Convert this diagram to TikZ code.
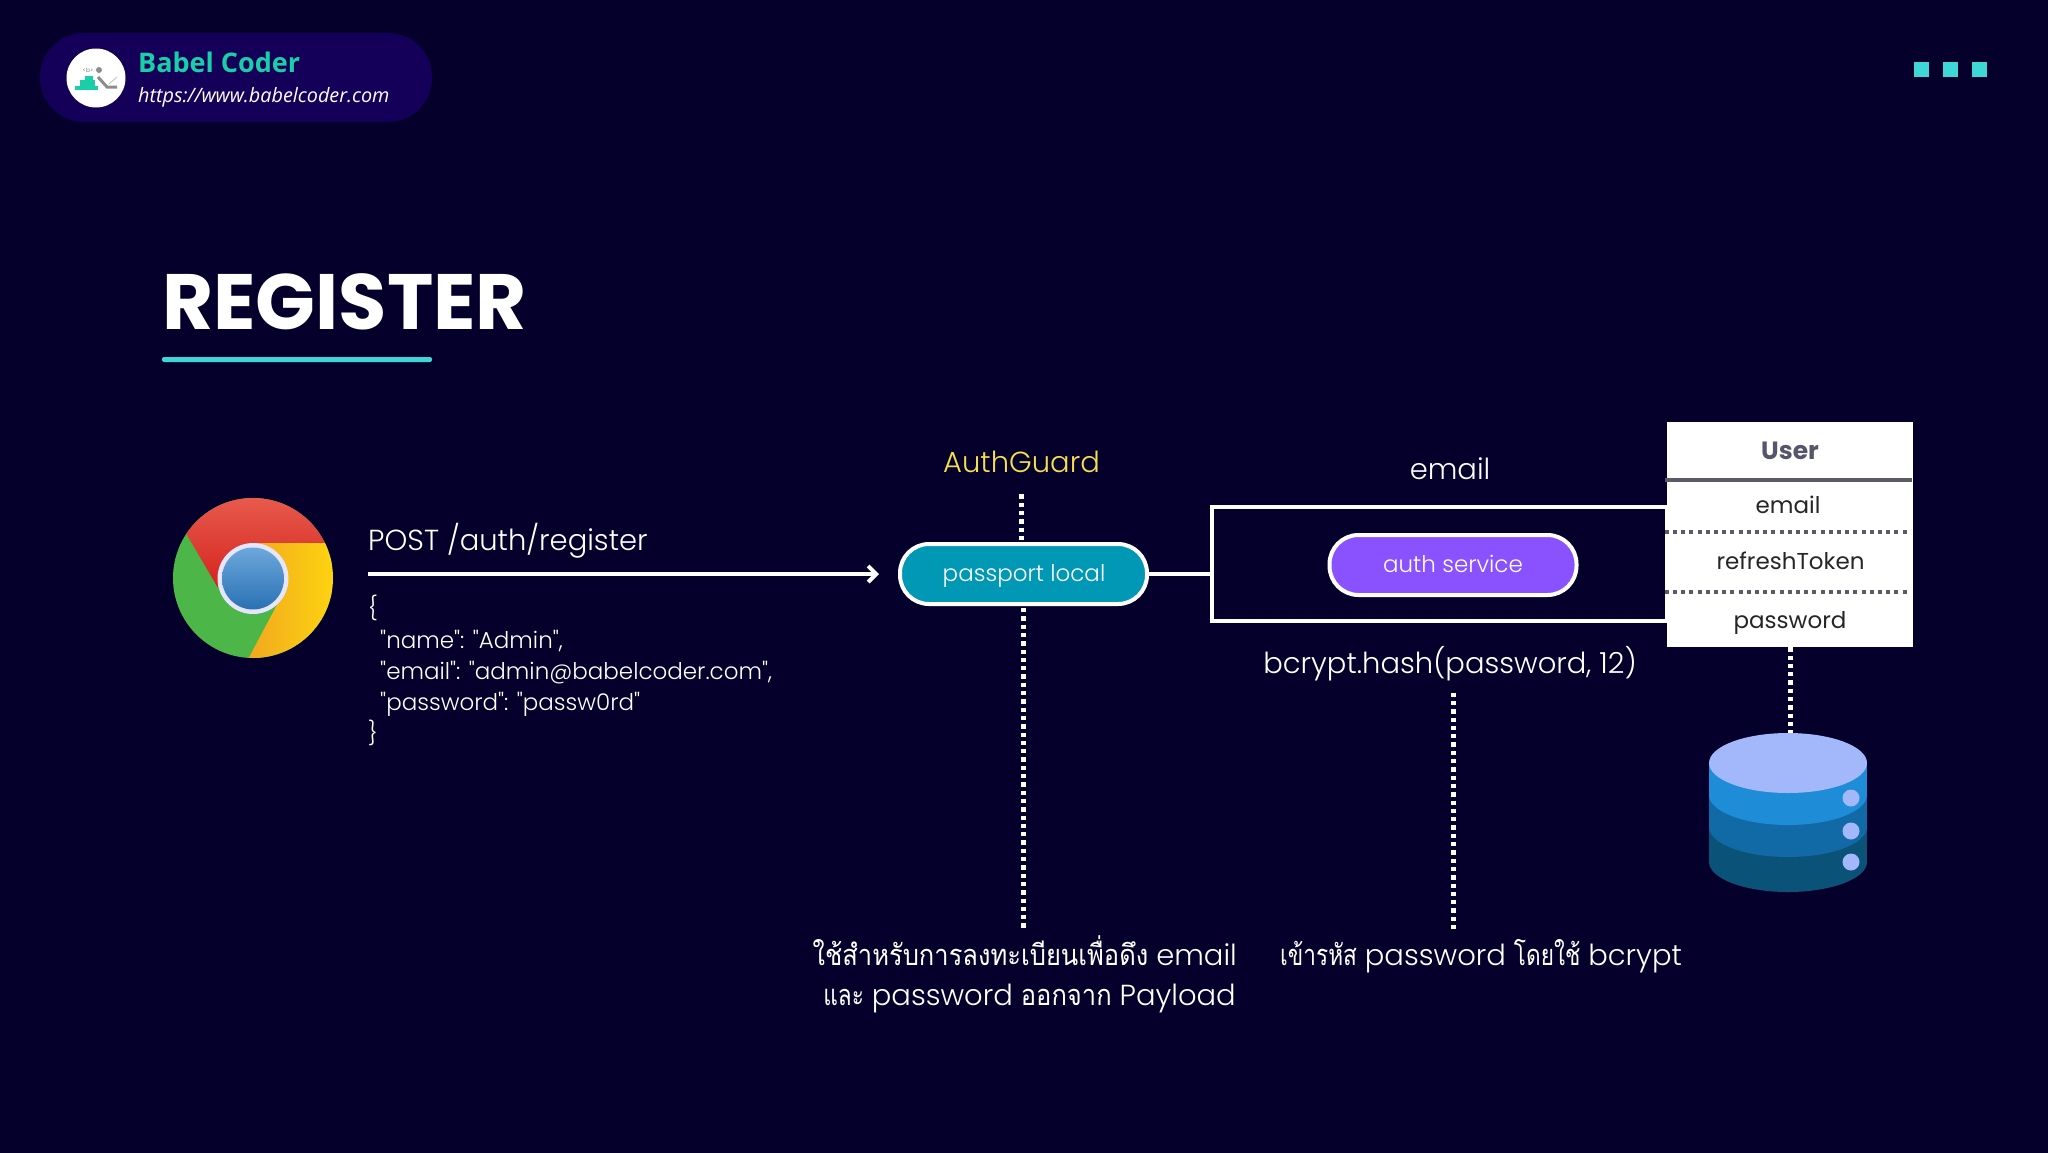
\documentclass[tikz,border=0pt]{standalone}
\usepackage{fontspec}
\usetikzlibrary{arrows.meta,shapes.geometric}
\setmainfont{Poppins}
\newfontfamily\lightfont{Poppins Light}
\newfontfamily\thaifont[Script=Thai,FakeStretch=0.88]{Loma}
\newfontfamily\thainarrow[Script=Thai,FakeStretch=0.78]{Loma}
\newfontfamily\brandfont{Open Sans}
\newcommand{\fsz}[1]{\fontsize{#1}{#1}\selectfont}
\definecolor{bgnavy}{HTML}{05002B}
\definecolor{badge}{HTML}{150059}
\definecolor{brandgreen}{HTML}{1ACFA8}
\definecolor{accent}{HTML}{3FD6D6}
\definecolor{guard}{HTML}{F5E050}
\definecolor{teal}{HTML}{0098B4}
\definecolor{violet}{HTML}{8A52FF}
\definecolor{slate}{HTML}{55556B}
\definecolor{rowgrey}{HTML}{5A5A68}
\definecolor{dbtop}{HTML}{A3B8FA}
\definecolor{dba}{HTML}{1E8CD6}
\definecolor{dbb}{HTML}{116AA6}
\definecolor{dbc}{HTML}{0B5278}
\definecolor{chromegreen}{HTML}{4CB648}
\definecolor{chromered}{HTML}{DF2620}
\definecolor{chromepink}{HTML}{EA5F50}
\definecolor{chromegold}{HTML}{F0A820}
\definecolor{chromeyellow}{HTML}{FFD60F}
\definecolor{chromesky}{HTML}{6DA7DC}
\definecolor{chromeblue}{HTML}{2A71B3}
\tikzset{
    txt/.style={inner sep=0pt, text=white, font=\lightfont\fsz{#1}},
    txt/.default=23,
    pill/.style={draw=white, line width=4pt, rounded corners=29pt, minimum width=247pt,
        minimum height=60pt, inner sep=0pt},
    wire/.style={draw=white, line width=4pt},
    dotline/.style={draw=white, line width=5pt, dash pattern=on 4.3pt off 4pt},
    rowline/.style={draw=rowgrey, line width=4pt, dash pattern=on 4pt off 4.2pt},
    cell/.style={inner sep=0pt, text=black!85, font=\fsz{23}, anchor=base},
}
\begin{document}
\begin{tikzpicture}[x=1pt, y=-1pt]
    \useasboundingbox (0,0) rectangle (2048,1152);
    \fill[bgnavy] (-3,-3) rectangle (2051,1155);
    % badge
    \fill[badge, rounded corners=44pt] (40,33) rectangle (432,122);
    \fill[white] (96,78) circle (29.5);
    \fill[brandgreen] (85,76) rectangle (93,80);
    \fill[brandgreen] (80,80) rectangle (95,86);
    \fill[brandgreen] (75,86) rectangle (98,90);
    \fill[black!45] (99,70) circle (3);
    \draw[black!45, line width=3pt] (98,77) -- (107,87) -- (117,87);
    \draw[black!25, line width=.8pt] (109,84) -- (117,77);
    \node[inner sep=0pt, text=black!50, font=\fsz{6}] (logotag) at (88,70) {<b>};
    \node[anchor=base west, inner sep=0pt, text=brandgreen, font=\brandfont\bfseries\fsz{27}] (brand) at (138,72) {Babel Coder};
    \node[anchor=base west, inner sep=0pt, text=white, font=\brandfont\itshape\fsz{19.8}] (url) at (138,102) {https://www.babelcoder.com};
    \foreach \x in {1914,1943,1972}
        \fill[accent] (\x,62) rectangle ++(15,15);
    % title
    \node[anchor=base west, inner sep=0pt, text=white, font=\bfseries\fsz{78.5}] (title) at (162,329) {REGISTER};
    \fill[accent, rounded corners=2pt] (162,357) rectangle (432,362);
    % browser
    \begin{scope}
        \clip (253,578) circle (80);
        \fill[chromegreen] (173,498) rectangle (333,658);
        \shade[top color=chromepink, middle color=chromered, bottom color=chromered!95!black]
            (187,535) -- (217.5,587) -- (253,543) -- (340,543) -- (340,490) -- (160,490) -- cycle;
        \shade[left color=chromegold, middle color=chromeyellow, right color=chromeyellow]
            (253,543) -- (340,543) -- (340,670) -- (247.6,660) -- (278,603) -- (253,578) -- cycle;
    \end{scope}
    \fill[white!90!blue] (253,578.5) circle (35.5);
    \shade[top color=chromesky, bottom color=chromeblue] (253,578.5) circle (31);
    % request
    \node[txt=29, anchor=base west] (post) at (368,550) {POST /auth/register};
    \foreach \y/\t in {648/{"name": "Admin",},679/{"email": "admin@babelcoder.com",},710/{"password": "passw0rd"}}
        \node[txt, anchor=base west] at (380,\y) {\t};
    \node[txt, anchor=west] (open) at (368,608) {\{};
    \node[txt, anchor=west] (close) at (368,733) {\}};
    % guard
    \node[pill, fill=teal] (passport) at (1023.5,574) {};
    \node[txt, anchor=base] (passporttxt) at (1024,581) {passport local};
    \node[txt=29, text=guard, anchor=base] (authguard) at (1021.5,472) {AuthGuard};
    \coordinate (reqstart) at (368,574);
    \draw[wire, -{Straight Barb[length=8pt, width=16pt]}, shorten >=19pt] (reqstart) -- (passport.west);
    \draw[dotline, shorten <=22pt] (authguard.south) -- (authguard.south |- passport.north);
    % service
    \node[draw=white, line width=4pt, minimum width=455pt, minimum height=114pt, inner sep=0pt] (box) at (1439.5,564) {};
    \draw[wire] (passport.east) -- (passport.east -| box.west);
    \node[pill, fill=violet] (auth) at (1453,565) {};
    \node[txt, anchor=base] (authtxt) at (1453,572) {auth service};
    \node[txt=29, anchor=base] (emailtxt) at (1450,479) {email};
    \node[txt=29, anchor=base] (hashtxt) at (1450,673) {bcrypt.hash(password, 12)};
    % notes
    \node[txt=29, anchor=base east, align=right] (noteguard) at (1237,965)
        {{\thaifont ใช้สำหรับการลงทะเบียนเพื่อดึง} email};
    \node[txt=29, anchor=base east] (noteguardb) at (1236,1005)
        {{\thainarrow และ} password {\thaifont ออกจาก} Payload};
    \node[txt=29, anchor=base west] (notehash) at (1280,965)
        {{\thainarrow เข้ารหัส} password {\thainarrow โดยใช้} bcrypt};
    \coordinate (guardend) at (1023.5,929);
    \coordinate (hashend) at (1453,929);
    \draw[dotline] (passport.south) ++(0,2) -- (guardend);
    \draw[dotline] (hashend |- hashtxt.south) ++(0,12) -- (hashend);
    % table
    \node[fill=white, minimum width=246pt, minimum height=225pt, inner sep=0pt] (user) at (1790,534.5) {};
    \node[cell, text=slate, font=\bfseries\fsz{25}] (usertxt) at (1790,459) {User};
    \coordinate (headrow) at (1790,479.5);
    \coordinate (rowa) at (1790,532);
    \coordinate (rowb) at (1790,592);
    \draw[draw=rowgrey, line width=4pt] ([xshift=-2pt]user.west |- headrow) -- ([xshift=-1pt]user.east |- headrow);
    \foreach \r in {rowa,rowb}
        \draw[rowline] ([xshift=-2pt]user.west |- \r) -- ([xshift=-5pt]user.east |- \r);
    \node[cell] (emailcell) at (1788,513) {email};
    \node[cell] (tokencell) at (1790.5,569) {refreshToken};
    \node[cell] (passcell) at (1790,628) {password};
    % database
    \foreach \e/\c in {862/dbc,827/dbb,795/dba} {
        \fill[\c] (1709,763) rectangle (1867,\e);
        \fill[\c] (1788,\e) ellipse [x radius=79, y radius=30];
    }
    \fill[dbtop] (1788,763) ellipse [x radius=79, y radius=30];
    \foreach \y in {798,831,862}
        \fill[dbtop] (1851,\y) circle (8.5);
    \coordinate (dbtopc) at (1790,733);
    \draw[dotline] (user.south) -- (dbtopc);
\end{tikzpicture}
\end{document}
